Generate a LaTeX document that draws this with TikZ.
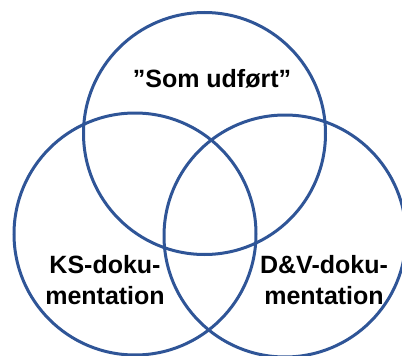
\documentclass[tikz,border=0pt]{standalone}
\usepackage{fontspec}
\setmainfont{Liberation Sans}
\definecolor{vennblue}{RGB}{47,85,151}
\begin{document}
\begin{tikzpicture}[x=1pt,y=-1pt,
  venn/.style={circle,draw=vennblue,line width=3pt,minimum size=242pt,inner sep=0pt},
  lbl/.style={font=\fontsize{25}{30}\selectfont\bfseries,inner sep=0pt,anchor=base}]
\useasboundingbox (0,0) rectangle (402,356);
\node[venn] (top) at (204.5,133.5) {};
\node[venn] (left) at (135,234) {};
\node[venn] (right) at (285,236) {};
\node[lbl] (som) at (212,87) {”Som udført”};
\node[lbl] (ks1) at (105,273) {KS-doku-};
\node[lbl] (ks2) at (105,304) {mentation};
\node[lbl] (dv1) at (324,273) {D\&V-doku-};
\node[lbl] (dv2) at (324,304) {mentation};
\end{tikzpicture}
\end{document}
